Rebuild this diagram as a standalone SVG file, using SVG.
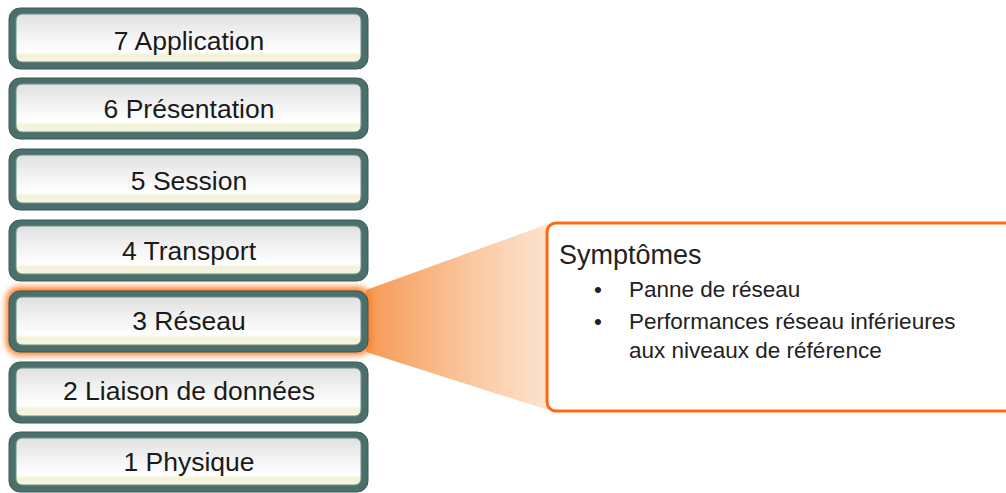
<svg xmlns="http://www.w3.org/2000/svg" width="1006" height="493" viewBox="0 0 1006 493">
<defs>
<linearGradient id="inner" x1="0" y1="0" x2="0" y2="1">
<stop offset="0" stop-color="#e0e0e0"/>
<stop offset="0.45" stop-color="#f3f3f3"/>
<stop offset="0.78" stop-color="#ffffff"/>
<stop offset="0.86" stop-color="#f3f1d6"/>
<stop offset="1" stop-color="#f7f6e6"/>
</linearGradient>
<linearGradient id="wedge" x1="0" y1="0" x2="1" y2="0">
<stop offset="0" stop-color="#f59a55"/>
<stop offset="0.6" stop-color="#fbc9a3"/>
<stop offset="1" stop-color="#fde3cf"/>
</linearGradient>
<filter id="glow" x="-10%" y="-30%" width="120%" height="160%">
<feGaussianBlur stdDeviation="3"/>
</filter>
</defs>
<style>
.outer{fill:#4b706b;stroke:#3a5955;stroke-width:1}
.inner{fill:url(#inner);stroke:#6d8f8a;stroke-width:1}
.lbl{font-family:"Liberation Sans",Arial,sans-serif;font-size:26.5px;fill:#1a1a1a;text-anchor:middle}
.txt{font-family:"Liberation Sans",Arial,sans-serif;fill:#222}
.item{font-size:22.5px}
</style>
<rect width="1006" height="493" fill="#ffffff"/>
<g id="connectors">
<polygon points="366,290 548,224 548,410 366,352" fill="url(#wedge)"/>
</g>
<g id="callout">
<rect x="547" y="223" width="470" height="188" rx="9" fill="#ffffff" stroke="#ff6a13" stroke-width="3"/>
<text class="txt" x="559" y="264" font-size="27">Symptômes</text>
<text class="txt item" x="594" y="297">•</text>
<text class="txt item" x="629" y="297">Panne de réseau</text>
<text class="txt item" x="594" y="329">•</text>
<text class="txt item" x="629" y="329">Performances réseau inférieures</text>
<text class="txt item" x="629" y="358">aux niveaux de référence</text>
</g>
<g id="layer7">
<rect x="9" y="8" width="359" height="61" rx="11" class="outer"/>
<rect x="16" y="14" width="345" height="48" rx="6" class="inner"/>
<text class="lbl" x="189" y="50">7 Application</text>
</g>
<g id="layer6">
<rect x="9" y="78" width="359" height="61" rx="11" class="outer"/>
<rect x="16" y="84" width="345" height="48" rx="6" class="inner"/>
<text class="lbl" x="189" y="118">6 Présentation</text>
</g>
<g id="layer5">
<rect x="9" y="149" width="359" height="61" rx="11" class="outer"/>
<rect x="16" y="155" width="345" height="48" rx="6" class="inner"/>
<text class="lbl" x="189" y="190">5 Session</text>
</g>
<g id="layer4">
<rect x="9" y="220" width="359" height="61" rx="11" class="outer"/>
<rect x="16" y="226" width="345" height="48" rx="6" class="inner"/>
<text class="lbl" x="189" y="260">4 Transport</text>
</g>
<g id="layer3">
<rect x="6" y="287" width="365" height="68" rx="13" fill="#ff7a20" filter="url(#glow)"/>
<rect x="9" y="291" width="359" height="61" rx="11" class="outer"/>
<rect x="16" y="297" width="345" height="48" rx="6" class="inner"/>
<text class="lbl" x="189" y="330">3 Réseau</text>
</g>
<g id="layer2">
<rect x="9" y="362" width="359" height="61" rx="11" class="outer"/>
<rect x="16" y="368" width="345" height="48" rx="6" class="inner"/>
<text class="lbl" x="189" y="400">2 Liaison de données</text>
</g>
<g id="layer1">
<rect x="9" y="432" width="359" height="60" rx="11" class="outer"/>
<rect x="16" y="438" width="345" height="47" rx="6" class="inner"/>
<text class="lbl" x="189" y="471">1 Physique</text>
</g>
</svg>
